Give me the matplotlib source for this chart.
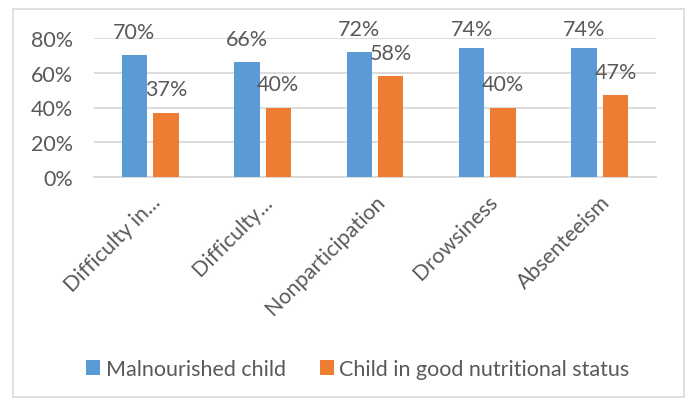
import matplotlib.pyplot as plt
from matplotlib.patches import Rectangle
from matplotlib.transforms import ScaledTranslation
import numpy as np

categories = ["Difficulty in...", "Difficulty...", "Nonparticipation", "Drowsiness", "Absenteeism"]
malnourished = [70, 66, 72, 74, 74]
good_status = [37, 40, 58, 40, 47]
series_names = ["Malnourished child", "Child in good nutritional status"]
yticks = [0, 20, 40, 60, 80]

BLUE = "#5B9BD5"
ORANGE = "#ED7D31"
TEXT = "#595959"
GRID = "#D9D9D9"
FS = 15.5

plt.rcParams["font.family"] = ["Lato", "DejaVu Sans"]

fig = plt.figure(figsize=(6.86, 4.06), dpi=100)
ax = fig.add_axes([94 / 686, 1 - 178 / 406, (656 - 94) / 686, (178 - 39) / 406])

x = np.arange(len(categories))
width = 0.225
off = 0.14
bars1 = ax.bar(x - off, malnourished, width, color=BLUE, label=series_names[0], zorder=3)
bars2 = ax.bar(x + off, good_status, width, color=ORANGE, label=series_names[1], zorder=3)

# labels sit ~14 units above the bar, but are kept inside the chart area like Excel does
for bars, vals in ((bars1, malnourished), (bars2, good_status)):
    for b, v in zip(bars, vals):
        ax.text(b.get_x() + b.get_width() / 2, min(v + 13.6, 85.2), f"{v}%",
                ha="center", va="center", fontsize=FS, color=TEXT, zorder=4, clip_on=False)

ax.set_xlim(-0.5, len(categories) - 0.5)
ax.set_ylim(0, 80)
ax.set_yticks(yticks)
ax.set_yticklabels([f"{t}%" for t in yticks])
ax.yaxis.grid(True, color=GRID, linewidth=1.3, zorder=0)
ax.set_xticks(x)
ax.set_xticklabels(categories, rotation=45, ha="right", va="top", rotation_mode="anchor")
ax.tick_params(axis="both", length=0, labelsize=FS, labelcolor=TEXT)
ax.tick_params(axis="y", pad=15)
ax.tick_params(axis="x", pad=6)
shift = ScaledTranslation(0.0, -0.06, fig.dpi_scale_trans)
for lbl in ax.get_xticklabels():
    lbl.set_transform(lbl.get_transform() + shift)
for side in ["top", "right", "left"]:
    ax.spines[side].set_visible(False)
ax.spines["bottom"].set_color(GRID)
ax.spines["bottom"].set_linewidth(1.3)

fig.patches.append(Rectangle((13 / 686, 1 - 398 / 406), (684 - 13) / 686, (398 - 10) / 406,
                             transform=fig.transFigure, fill=False, edgecolor=GRID, linewidth=1.2))

leg = fig.legend(handles=[bars1, bars2], labels=series_names, loc="center",
                 bbox_to_anchor=(358 / 686, 1 - 370 / 406), ncol=2, frameon=False,
                 fontsize=FS, handlelength=0.65, handleheight=0.65, handletextpad=0.25,
                 columnspacing=1.6, labelcolor=TEXT)

fig.savefig("out.png", dpi=100)
